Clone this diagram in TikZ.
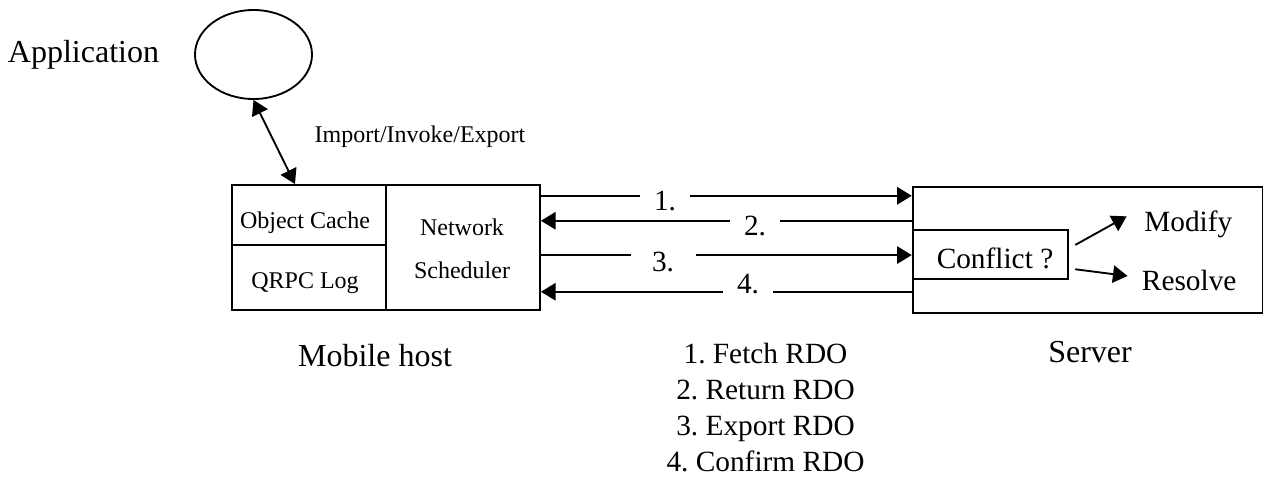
\documentclass[tikz,border=0pt]{standalone}
\usepackage{fontspec}
\setmainfont{Liberation Serif}
\frenchspacing
\usetikzlibrary{arrows.meta,shapes.geometric,fit,calc}
\begin{document}
\begin{tikzpicture}[x=0.75pt,y=-0.75pt,
  line width=1.4pt,
  box/.style={draw, rectangle, inner sep=0pt, fit={#1}},
  tip/.style={-{Triangle[length=11pt,width=13pt]}},
  tips/.style={{Triangle[length=11pt,width=13pt]}-{Triangle[length=11pt,width=13pt]}},
  big/.style={font=\fontsize{24pt}{28pt}\selectfont, inner sep=0pt},
  mid/.style={font=\fontsize{22pt}{27pt}\selectfont, inner sep=0pt},
  small/.style={font=\fontsize{18pt}{21pt}\selectfont, inner sep=0pt},
  num/.style={mid, fill=white, minimum width=#1*0.75pt, inner xsep=0pt, inner ysep=2pt},
  num/.default=50]
\useasboundingbox (0,0) rectangle (1264,476);

% application
\node[draw, ellipse, minimum width=117*0.75pt, minimum height=89*0.75pt, inner sep=0pt] (app) at (253.5,54.5) {};
\node[big, anchor=base] (applbl) at (83.5,62) {Application};

% mobile host
\node[box={(232,185) (386,245.3)}] (cache) {};
\node[box={(232,245.3) (386,310)}] (qrpc) {};
\node[box={(386,185) (540,310)}] (sched) {};
\node[small, anchor=base] (cachelbl) at (305,228.3) {Object Cache};
\node[small, anchor=base] (qrpclbl) at (305,288.3) {QRPC Log};
\node[small, anchor=base] (netlbl) at (462,235) {Network};
\node[small, anchor=base] (schedlbl) at (462,278.3) {Scheduler};
\node[big, anchor=base] (mhlbl) at (375,366.7) {Mobile host};

% server
\node[box={(912.7,187.3) (1262.5,313.3)}] (srv) {};
\node[box={(912.7,230) (1068.3,279.3)}] (conf) {};
\node[mid, anchor=base] (conflbl) at (995,268.3) {Conflict ?};
\node[mid, anchor=base] (mod) at (1188.3,231.7) {Modify};
\node[mid, anchor=base] (res) at (1189.2,290.7) {Resolve};
\node[big, anchor=base] (srvlbl) at (1090,362) {Server};

% application <-> object cache
\coordinate (imp) at ($(cache.north west)!0.41!(cache.north east)$);
\draw[tips] (app.south) -- (imp);
\node[small, anchor=base] (implbl) at (420,142) {Import/Invoke/Export};

% messages between host and server
\coordinate (m1) at ([shift={(0,11.7)}]sched.north east);
\coordinate (m2) at ([shift={(0,36.7)}]sched.north east);
\coordinate (m3) at ([shift={(0,71)}]sched.north east);
\coordinate (m4) at ([shift={(0,107.7)}]sched.north east);
\draw[tip] (m1) -- (m1 -| srv.west);
\draw[tip] (m2 -| srv.west) -- (m2);
\draw[tip] (m3) -- (m3 -| srv.west);
\draw[tip] (m4 -| srv.west) -- (m4);
\node[num, anchor=base] (n1) at (665,210) {1.};
\node[num, anchor=base] (n2) at (755,235) {2.};
\node[num=65, anchor=base] (n3) at (663,271.7) {3.};
\node[num, anchor=base] (n4) at (748,293) {4.};

% conflict outcomes
\draw[tip] ([shift={(6,-9.7)}]conf.east) -- ([shift={(-16.7,-8.2)}]mod.west);
\draw[tip] ([shift={(6,14.6)}]conf.east) -- ([shift={(-13.4,-4.7)}]res.west);

% message legend
\node[mid, align=center, anchor=north] (legend) at (765.5,342) {1. Fetch RDO\\2. Return RDO\\3. Export RDO\\4. Confirm RDO};
\end{tikzpicture}
\end{document}
